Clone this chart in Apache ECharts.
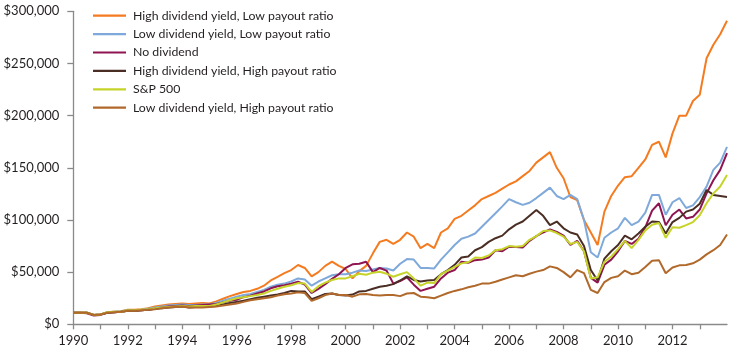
<!DOCTYPE html>
<html><head><meta charset="utf-8">
<script src="https://cdn.jsdelivr.net/npm/echarts@6/dist/echarts.min.js"></script>
<style>html,body{margin:0;padding:0;background:#fff}#c{width:733px;height:355px}</style>
</head><body><div id="c"></div>
<script>
// quarterly time points (decimal years) 1990.00 .. 2014.00
const dates = [];
for (let i = 0; i <= 96; i++) dates.push(1990 + i / 4);

const seriesNames = [
  "High dividend yield, Low payout ratio",
  "Low dividend yield, Low payout ratio",
  "No dividend",
  "High dividend yield, High payout ratio",
  "S&P 500",
  "Low dividend yield, High payout ratio"
];

// values in $ thousands, 4 per year
const highYieldLowPayout = [
  11.0, 11.0, 11.2, 9.0,   9.5, 11.5, 12.0, 12.5,   14.0, 14.0, 14.5, 15.5,   17.0, 18.0, 19.0, 19.5,
  20.0, 19.5, 20.0, 20.5,  20.0, 22.0, 24.5, 27.0,  29.0, 31.0, 32.0, 34.0,  37.0, 42.0, 45.5, 49.0,
  52.0, 56.8, 54.0, 46.0,  50.0, 56.0, 60.0, 56.0,  53.0, 44.0, 51.0, 56.0,  68.0, 79.0, 81.0, 77.0,
  81.0, 88.0, 84.0, 73.0,  77.0, 73.0, 88.0, 92.0,  101.0, 104.0, 109.0, 114.0,  120.0, 123.0, 126.0, 130.0,
  134.0, 137.0, 142.0, 147.0,  155.0, 160.0, 165.0, 150.0,  140.0, 122.0, 119.0, 100.0,  88.0, 76.0, 108.0, 123.0,
  133.0, 141.0, 142.0, 150.0,  158.0, 172.0, 175.0, 160.0,  183.0, 200.0, 200.0, 214.0,  220.0, 255.0, 268.0, 278.0,
  291.0
];
const lowYieldLowPayout = [
  11.0, 11.0, 11.0, 9.0,   9.5, 11.5, 12.0, 12.5,   13.5, 13.5, 14.0, 15.0,   16.0, 17.0, 18.0, 18.5,
  19.0, 18.5, 18.5, 19.0,  19.0, 20.5, 22.5, 24.5,  26.5, 28.0, 29.0, 31.0,  33.0, 36.0, 38.0, 39.0,
  41.0, 44.0, 43.0, 37.0,  41.0, 44.0, 47.0, 48.0,  48.0, 49.5, 51.5, 51.0,  52.5, 54.0, 53.5, 51.5,
  58.0, 62.5, 62.0, 54.0,  54.0, 53.5, 62.0, 69.0,  76.0, 82.0, 84.0, 87.0,  93.5, 100.0, 106.5, 113.0,
  120.0, 117.0, 114.5, 116.5,  121.0, 126.0, 131.0, 123.0,  120.0, 124.0, 120.0, 100.0,  69.0, 64.0, 83.0, 88.0,
  92.0, 102.0, 95.0, 98.4,  107.0, 124.0, 124.0, 105.0,  117.0, 121.0, 111.5, 114.0,  122.0, 132.0, 148.0, 155.0,
  170.0
];
const noDividend = [
  11.0, 11.0, 10.5, 8.5,   9.0, 11.0, 11.5, 12.0,   13.0, 13.0, 13.5, 14.0,   15.0, 16.0, 17.0, 17.5,
  18.0, 17.5, 18.0, 18.5,  19.0, 19.5, 21.0, 22.5,  23.5, 26.0, 27.5, 29.5,  31.5, 34.5, 36.5, 37.5,
  39.0, 40.8, 38.0, 30.0,  34.0, 38.5, 43.5, 48.0,  54.0, 57.5, 58.0, 60.0,  50.0, 54.0, 51.5, 39.0,
  41.5, 45.0, 38.0, 32.0,  34.0, 36.0, 44.0, 49.5,  52.0, 60.0, 59.0, 61.5,  62.0, 64.0, 71.0, 70.0,
  74.3, 74.0, 73.5, 80.0,  84.5, 88.0, 91.0, 88.5,  85.0, 76.0, 80.0, 70.0,  44.5, 40.0, 57.0, 62.0,
  70.0, 80.0, 77.0, 82.0,  93.0, 109.0, 116.0, 95.0,  105.0, 110.0, 101.5, 103.0,  110.0, 125.5, 138.0, 148.0,
  164.0
];
const highYieldHighPayout = [
  11.0, 11.0, 11.0, 9.0,   9.5, 11.0, 11.5, 12.0,   13.0, 13.0, 13.5, 14.0,   15.0, 15.5, 16.0, 16.5,
  17.0, 16.0, 16.5, 16.5,  17.0, 17.5, 19.0, 20.5,  21.5, 22.5, 24.0, 25.5,  26.5, 27.5, 28.5, 30.0,
  32.0, 31.5, 31.5, 24.0,  26.5, 29.0, 29.5, 28.0,  27.5, 28.5, 31.5, 32.0,  34.0, 36.0, 37.0, 38.5,
  42.0, 46.0, 42.5, 41.0,  42.0, 42.5, 48.0, 52.0,  57.0, 64.0, 65.0, 71.0,  74.0, 79.0, 82.5, 85.0,
  91.0, 95.5, 98.5, 104.0,  109.5, 104.0, 95.0, 98.5,  92.0, 88.0, 86.0, 75.0,  52.0, 42.0, 63.0, 70.0,
  76.0, 85.0, 81.5, 87.0,  93.5, 98.5, 98.0, 87.0,  98.0, 102.0, 108.0, 110.0,  115.5, 128.7, 124.0, 123.0,
  122.0
];
const sp500 = [
  11.0, 11.0, 11.0, 9.0,   9.5, 11.5, 12.0, 12.0,   13.5, 13.5, 14.0, 14.5,   15.5, 16.0, 16.5, 17.0,
  17.5, 17.0, 17.5, 17.5,  17.5, 19.0, 21.0, 23.0,  25.0, 26.0, 27.0, 28.0,  29.5, 32.0, 34.0, 36.0,
  37.5, 39.5, 39.0, 31.0,  36.5, 40.0, 42.5, 44.0,  44.0, 46.0, 48.5, 47.5,  49.5, 50.4, 48.5, 45.6,
  48.0, 50.0, 44.0, 37.0,  40.0, 39.5, 48.0, 51.5,  55.0, 58.4, 59.5, 64.0,  63.5, 66.0, 71.0, 72.0,
  75.0, 74.3, 75.0, 81.0,  84.5, 89.5, 90.0, 87.5,  84.0, 77.0, 79.0, 70.0,  44.0, 45.0, 60.0, 65.0,
  72.0, 80.0, 73.0, 81.0,  90.0, 95.5, 97.0, 83.0,  93.0, 92.5, 95.0, 98.0,  104.5, 116.0, 125.5, 132.0,
  143.0
];
const lowYieldHighPayout = [
  11.0, 11.0, 11.0, 9.0,   9.5, 11.0, 11.5, 12.0,   13.0, 13.0, 13.5, 14.0,   14.5, 15.5, 16.0, 16.5,
  17.0, 16.0, 16.0, 16.0,  16.5, 17.0, 18.0, 19.0,  20.0, 21.5, 23.0, 24.0,  25.0, 26.0, 27.5, 28.7,
  29.5, 30.6, 30.0, 22.5,  25.0, 28.0, 29.5, 28.1,  28.0, 26.5, 28.7, 29.0,  28.0, 27.5, 28.1, 28.0,
  27.0, 29.5, 30.0, 26.5,  26.0, 25.0, 27.5, 30.0,  32.0, 33.5, 35.5, 37.0,  39.0, 39.0, 40.8, 43.0,
  45.0, 47.0, 46.0, 48.5,  50.5, 52.0, 55.5, 54.0,  50.0, 45.0, 52.0, 49.0,  33.0, 30.0, 40.5, 44.5,
  46.0, 51.5, 48.0, 49.5,  55.0, 61.0, 61.5, 49.0,  54.5, 56.5, 56.8, 58.5,  62.0, 67.0, 71.0, 76.0,
  86.0
];

const seriesValues = [highYieldLowPayout, lowYieldLowPayout, noDividend, highYieldHighPayout, sp500, lowYieldHighPayout];
const seriesColors = ["#F47B20", "#7FA9DA", "#8E1552", "#4A2E24", "#C6D42A", "#B0692A"];
const yTicks = [0, 50000, 100000, 150000, 200000, 250000, 300000];

const chart = echarts.init(document.getElementById('c'), null, {renderer: 'canvas'});
const FONT = 'Lato';
chart.setOption({
  animation: false,
  backgroundColor: '#fff',
  grid: {left: 73.3, right: 6, top: 11.3, bottom: 30.7, containLabel: false},
  legend: {
    orient: 'vertical', left: 93, top: 8.7, padding: 0,
    icon: 'rect', itemWidth: 33, itemHeight: 2.2, itemGap: 4.4,
    textStyle: {fontFamily: FONT, fontSize: 12.3, color: '#231F20', lineHeight: 14, padding: [0, 0, 0, 2]},
    data: seriesNames
  },
  xAxis: {
    type: 'value', min: 1990, max: 2014, interval: 1,
    axisLine: {show: true, lineStyle: {color: '#8a8a8a', width: 1.3}},
    axisTick: {show: true, length: 5, lineStyle: {color: '#8a8a8a', width: 1.3}},
    splitLine: {show: false},
    axisLabel: {
      margin: 10, fontFamily: FONT, fontSize: 13, color: '#231F20',
      formatter: v => (v % 2 === 0 && v < 2014) ? String(v) : '',
      showMaxLabel: false
    }
  },
  yAxis: {
    type: 'value', min: yTicks[0], max: yTicks[yTicks.length - 1], interval: 50000,
    axisLine: {show: true, lineStyle: {color: '#8a8a8a', width: 1.3}},
    axisTick: {show: true, length: 6, lineStyle: {color: '#8a8a8a', width: 1.3}},
    splitLine: {show: false},
    axisLabel: {
      margin: 14, fontFamily: FONT, fontSize: 13, color: '#231F20',
      formatter: v => '$' + v.toLocaleString('en-US')
    }
  },
  series: seriesNames.map((name, i) => ({
    name, type: 'line', showSymbol: false, symbol: 'none',
    color: seriesColors[i],
    lineStyle: {width: 2, color: seriesColors[i]},
    data: dates.map((d, j) => [d, seriesValues[i][j] * 1000]),
    z: 2
  }))
});
</script></body></html>
